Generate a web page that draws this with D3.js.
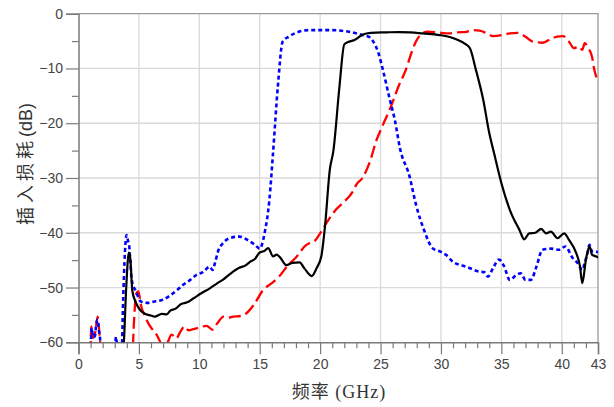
<!DOCTYPE html>
<html>
<head>
<meta charset="utf-8">
<script src="https://cdn.jsdelivr.net/npm/d3@7"></script>
<style>
body { margin: 0; background: #fff; }
</style>
</head>
<body>
<svg class="view" width="614" height="407"></svg>
<script>
// insertion loss curves
var blackFreq = [3.6, 3.75, 3.95, 4.17, 4.3, 4.45, 4.7, 5.1, 5.6, 6.0, 6.3, 6.9, 7.3, 7.6, 8.0, 8.5, 9.0, 9.5, 10.2, 10.9, 11.5, 12.0, 12.5, 13.3, 13.8, 14.2, 14.6, 15.0, 15.4, 15.7, 16.1, 16.4, 16.65, 17.2, 17.7, 18.3, 18.7, 19.3, 19.7, 20.1, 20.4, 20.8, 21.1, 21.6, 22.0, 22.4, 22.85, 23.5, 24.2, 25.5, 26.5, 27.5, 28.5, 29.9, 30.8, 31.5, 32.0, 32.4, 32.9, 33.5, 34.0, 34.4, 35.0, 35.7, 36.5, 36.9, 37.3, 37.8, 38.3, 38.7, 39.1, 39.65, 40.2, 40.6, 41.2, 41.5, 41.7, 42.0, 42.3, 42.5, 42.8, 43.0];
var blackLoss = [-62, -60, -50, -43.6, -45, -50.5, -52.5, -54.1, -54.9, -55.1, -55.3, -54.8, -54.9, -54.2, -53.9, -53.0, -52.7, -52.0, -51.0, -50.1, -49.2, -48.5, -47.6, -46.4, -46.0, -45.3, -44.8, -43.6, -43.3, -42.8, -44.3, -44.0, -44.4, -45.9, -45.5, -45.4, -46.5, -47.9, -46.5, -44.3, -38.9, -28.5, -25, -13.3, -5.6, -5.1, -4.8, -3.85, -3.5, -3.4, -3.35, -3.4, -3.6, -3.9, -4.3, -4.9, -5.5, -6.3, -10.3, -15.7, -21.8, -25.5, -30.9, -35.8, -39.5, -41.2, -40.1, -40.0, -39.3, -40.1, -39.8, -41.0, -40.1, -41.3, -43.7, -46, -49.2, -44.9, -42.5, -44.0, -44.3, -44.5];

var blueFreq = [1.0, 1.1, 1.2, 1.36, 1.45, 1.58, 1.7, 1.78, 1.9, 3.0, 3.1, 3.25, 3.57, 3.7, 3.84, 3.98, 4.1, 4.2, 4.3, 4.4, 4.75, 5.2, 5.7, 6.2, 7.0, 7.56, 8.2, 8.66, 9.2, 9.77, 10.3, 10.87, 11.1, 11.3, 11.55, 12.0, 12.5, 13.3, 14.2, 14.6, 15.0, 15.4, 15.8, 16.1, 16.5, 16.9, 17.4, 18.0, 19.1, 20.8, 22.4, 23.5, 24.1, 24.4, 24.8, 25.2, 25.75, 26.2, 26.6, 27.4, 27.95, 28.6, 29.3, 30.0, 30.4, 31.0, 32.1, 33.2, 33.6, 33.9, 34.3, 34.8, 35.2, 35.7, 36.2, 36.6, 37.0, 37.45, 37.9, 38.4, 39.1, 39.8, 40.3, 40.9, 41.3, 41.7, 41.9, 42.1, 42.3, 42.5, 42.8, 43.0];
var blueLoss = [-62, -57.4, -59, -58.9, -57, -55.9, -58, -59.2, -62, -62, -59, -62, -62, -52, -43.7, -40.4, -41.5, -42.5, -45.5, -48.6, -50.7, -52.6, -52.8, -52.6, -52.2, -51.5, -50.4, -49.5, -48.7, -47.7, -47.2, -46.2, -46.8, -45.5, -43.4, -41.8, -41.0, -40.7, -41.6, -42.2, -42.9, -40.1, -34.0, -25.5, -13.3, -5.1, -4.2, -3.5, -3.0, -3.0, -3.3, -3.9, -4.3, -5.1, -7.0, -10.3, -15.5, -19.6, -24.5, -29.7, -35, -39.5, -42.8, -43.5, -44.0, -45.3, -46.2, -47.1, -47.2, -48.0, -46.5, -44.9, -46.0, -48.6, -47.8, -47.4, -48.6, -48.6, -46.2, -43.1, -42.9, -43.1, -42.5, -44.6, -45.5, -46.8, -45.5, -44, -42.2, -43.4, -43.4, -43.6];

var redFreq = [1.0, 1.05, 1.2, 1.4, 1.58, 1.72, 1.9, 4.45, 4.6, 4.75, 4.95, 5.2, 5.5, 5.77, 6.1, 6.46, 6.9, 7.3, 7.7, 8.1, 8.4, 8.8, 9.1, 9.5, 10.0, 10.6, 11.1, 11.5, 12.0, 12.4, 12.8, 13.4, 13.9, 14.5, 15.3, 16.0, 16.6, 17.35, 18.0, 18.86, 19.1, 19.5, 20.0, 20.5, 21.3, 22.0, 22.7, 23.0, 23.5, 24.2, 24.6, 25.2, 25.8, 26.5, 27.1, 27.5, 27.9, 28.4, 28.9, 29.6, 30.7, 31.4, 32.1, 32.7, 33.2, 33.8, 34.3, 35.1, 35.7, 36.35, 37.0, 37.6, 38.4, 39.2, 39.6, 40.1, 40.6, 41.0, 41.4, 41.7, 41.9, 42.2, 42.5, 42.7, 42.9, 43.0];
var redLoss = [-62, -57.1, -59.2, -58, -55.3, -58, -62, -62, -56, -51.3, -50.7, -53.5, -55.2, -56.5, -57.6, -58.6, -60.2, -60.2, -58.6, -59.3, -58.2, -57.1, -57.8, -57.6, -57.3, -57.0, -57.7, -56.5, -55.3, -55.5, -55.3, -55.2, -54.7, -53.2, -50.4, -49.2, -48.0, -45.9, -44.5, -42.2, -41.9, -41.6, -40.1, -38.3, -35.8, -34.3, -32.5, -31.2, -30, -26.5, -23.5, -20.3, -17.3, -13.2, -10.2, -7.5, -5.2, -3.7, -3.3, -3.4, -3.6, -3.4, -3.3, -3.0, -3.1, -3.6, -4.1, -3.9, -3.6, -3.5, -4.2, -5.1, -5.3, -4.5, -4.2, -4.1, -5.1, -6.3, -6.0, -6.6, -5.4, -6.3, -7.8, -10.3, -11.8, -12.3];

var xTicks = [0, 5, 10, 15, 20, 25, 30, 35, 40, 43];
var yTicks = [0, -10, -20, -30, -40, -50, -60];

var svg = d3.select('.view'),
    plotLeft = 78.5, plotRight = 598, plotTop = 13.7, plotBottom = 342.3;

var x = d3.scaleLinear().domain([0, 43]).range([plotLeft, plotRight]);
var y = d3.scaleLinear().domain([-60, 0]).range([plotBottom, plotTop]);

svg.append('rect').attr('width', 614).attr('height', 407).attr('fill', '#fff');

// grid
svg.append('g').selectAll('line')
    .data(xTicks.slice(1, -1))
    .enter().append('line')
    .attr('x1', function (d) { return x(d); })
    .attr('x2', function (d) { return x(d); })
    .attr('y1', plotTop).attr('y2', plotBottom)
    .attr('stroke', '#dadada').attr('stroke-width', 1.3);

svg.append('g').selectAll('line')
    .data(yTicks.slice(1, -1))
    .enter().append('line')
    .attr('x1', plotLeft).attr('x2', plotRight)
    .attr('y1', function (d) { return y(d); })
    .attr('y2', function (d) { return y(d); })
    .attr('stroke', '#dadada').attr('stroke-width', 1.3);

// frame (top, right)
svg.append('path')
    .attr('d', 'M' + plotLeft + ',' + plotTop + 'H' + plotRight + 'V' + plotBottom)
    .attr('fill', 'none').attr('stroke', '#9a9a9a').attr('stroke-width', 1.3);

// minor ticks
var xMinor = d3.range(1, 43).filter(function (d) { return d % 5 !== 0; });
var yMinor = [-5, -15, -25, -35, -45, -55];

svg.append('g')
    .attr('transform', 'translate(0,' + plotBottom + ')')
    .call(d3.axisBottom(x).tickValues(xMinor).tickSize(6).tickFormat(''))
    .call(function (g) { g.select('.domain').remove(); });

svg.append('g')
    .attr('transform', 'translate(' + plotLeft + ',0)')
    .call(d3.axisLeft(y).tickValues(yMinor).tickSize(6.5).tickFormat(''))
    .call(function (g) { g.select('.domain').remove(); });

// major axes
svg.append('g')
    .attr('class', 'xaxis')
    .attr('transform', 'translate(0,' + plotBottom + ')')
    .call(d3.axisBottom(x).tickValues(xTicks).tickSize(12).tickPadding(5).tickFormat(d3.format('d')));

svg.append('g')
    .attr('class', 'yaxis')
    .attr('transform', 'translate(' + plotLeft + ',0)')
    .call(d3.axisLeft(y).tickValues(yTicks).tickSize(12.5).tickPadding(3).tickFormat(d3.format('d')));

svg.selectAll('.tick line').attr('stroke', '#7a7a7a').attr('stroke-width', 1.2);
svg.selectAll('.domain').attr('stroke', '#7a7a7a').attr('stroke-width', 1.5);
svg.selectAll('.xaxis text, .yaxis text')
    .attr('fill', '#444')
    .style('font-family', '"Liberation Sans", Arial, sans-serif')
    .style('font-size', '14px');

// curves
svg.append('clipPath').attr('id', 'plot')
    .append('rect')
    .attr('x', plotLeft).attr('y', plotTop)
    .attr('width', plotRight - plotLeft).attr('height', plotBottom - plotTop);

function series(freq, loss) {
    return freq.map(function (f, i) { return [f, loss[i]]; });
}

var line = d3.line()
    .x(function (d) { return x(d[0]); })
    .y(function (d) { return y(d[1]); })
    .curve(d3.curveMonotoneX);

var curves = svg.append('g').attr('clip-path', 'url(#plot)');

curves.append('path')
    .datum(series(redFreq, redLoss))
    .attr('d', line)
    .attr('fill', 'none')
    .attr('stroke', '#ff0000')
    .attr('stroke-width', 2.3)
    .attr('stroke-dasharray', '12,5');

curves.append('path')
    .datum(series(blueFreq, blueLoss))
    .attr('d', line)
    .attr('fill', 'none')
    .attr('stroke', '#0000ff')
    .attr('stroke-width', 2.6)
    .attr('stroke-dasharray', '4,3');

curves.append('path')
    .datum(series(blackFreq, blackLoss))
    .attr('d', line)
    .attr('fill', 'none')
    .attr('stroke', '#000')
    .attr('stroke-width', 2.2);

// axis titles
svg.append('text')
    .attr('x', 339).attr('y', 398)
    .attr('text-anchor', 'middle')
    .attr('fill', '#333')
    .style('font-family', '"Liberation Serif", "Noto Sans CJK SC", serif')
    .style('font-size', '18px')
    .style('letter-spacing', '1px')
    .text('频率 (GHz)');

var yTitle = svg.append('text')
    .attr('transform', 'translate(32,164) rotate(-90)')
    .attr('text-anchor', 'middle')
    .attr('fill', '#333')
    .style('font-family', '"Liberation Sans", "Noto Sans CJK SC", sans-serif')
    .style('font-size', '18px');
yTitle.append('tspan').style('letter-spacing', '4px').text('插入损耗');
yTitle.append('tspan').text('(dB)');
</script>
</body>
</html>
